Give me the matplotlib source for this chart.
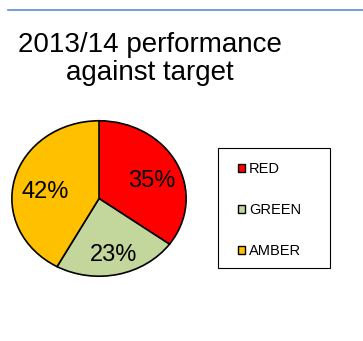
import matplotlib.pyplot as plt
from matplotlib.lines import Line2D
from matplotlib.patches import Patch, Rectangle
from matplotlib.transforms import offset_copy

plt.rcParams['font.family'] = ['Liberation Sans', 'DejaVu Sans']

# Data
categories = ['RED', 'GREEN', 'AMBER']
shares = [35, 23, 42]
colors = ['#FF0000', '#C3D69B', '#FFC000']

W, H = 363, 341
fig = plt.figure(figsize=(W / 100, H / 100), dpi=100)

# thin blue rule along the top
fig.add_artist(Line2D([8 / W, 1.0], [1 - 10 / H, 1 - 10 / H],
                      color='#5B8FD0', lw=1.2, transform=fig.transFigure))

fig.text(150 / W, 1 - 32 / H, '2013/14 performance\nagainst target',
         ha='center', va='top', fontsize=20, linespacing=1.08,
         multialignment='center')

# pie (slightly wider than tall, as in the source)
ax = fig.add_axes([11 / W, (H - 277) / H, 176 / W, 157 / H])
wedges, texts, autotexts = ax.pie(
    shares, colors=colors, startangle=90, counterclock=False,
    autopct='%d%%', pctdistance=0.66,
    wedgeprops=dict(edgecolor='black', linewidth=1.2),
    textprops=dict(fontsize=17, color='black'))
for t in autotexts:
    t.set_transform(offset_copy(ax.transData, fig, x=2, y=-6, units='dots'))
ax.set_aspect('auto')
ax.set_xlim(-1.01, 1.01)
ax.set_ylim(-1.01, 1.01)

# legend box
fig.add_artist(Rectangle((218 / W, 1 - 268 / H), 112 / W, 120 / H,
                         facecolor='white', edgecolor='black', lw=0.8,
                         transform=fig.transFigure))
handles = [Patch(facecolor=c, edgecolor='black', linewidth=1.0) for c in colors]
leg = fig.legend(handles, categories, loc='upper left',
                 bbox_to_anchor=(238 / W, 1 - 162 / H), borderaxespad=0,
                 frameon=False, borderpad=0,
                 fontsize=10.5, handlelength=0.5, handleheight=0.5,
                 handletextpad=0.25, labelspacing=1.85)
leg.set_zorder(5)

fig.savefig('out.png', dpi=100)
